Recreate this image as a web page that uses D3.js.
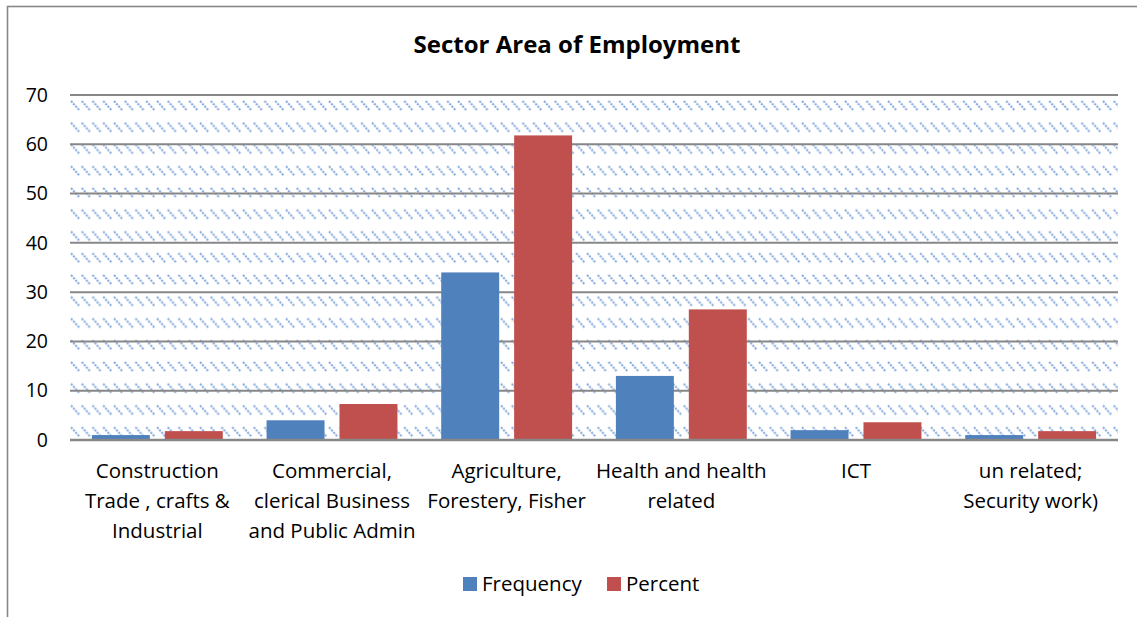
<!DOCTYPE html>
<html>
<head>
<meta charset="utf-8">
<script src="https://cdn.jsdelivr.net/npm/d3@7/dist/d3.min.js"></script>
<style>
  html, body { margin: 0; padding: 0; background: #fff; }
  svg { display: block; font-family: "Open Sans", Lato, sans-serif; }
</style>
</head>
<body>
<svg id="chart" width="1137" height="617"></svg>
<script>
const title = "Sector Area of Employment";
const categories = [
  "Construction Trade , crafts & Industrial",
  "Commercial, clerical Business and Public Admin",
  "Agriculture, Forestery, Fisher",
  "Health and health related",
  "ICT",
  "un related; Security work)"
];
const categoryLines = [
  ["Construction", "Trade , crafts &", "Industrial"],
  ["Commercial,", "clerical Business", "and Public Admin"],
  ["Agriculture,", "Forestery, Fisher"],
  ["Health and health", "related"],
  ["ICT"],
  ["un related;", "Security work)"]
];
const seriesNames = ["Frequency", "Percent"];
const frequency = [1, 4, 34, 13, 2, 1];
const percent = [1.8, 7.3, 61.8, 26.5, 3.6, 1.8];
const yTicks = [0, 10, 20, 30, 40, 50, 60, 70];
const colors = ["#4f81bd", "#c0504d"];

const svg = d3.select("#chart");
const W = 1137, H = 617;
const plot = { left: 70, right: 1118, top: 95, bottom: 440 };
const FONT = "'Open Sans', Lato, sans-serif";

// outer border
svg.append("rect").attr("x", 7.5).attr("y", 6.5).attr("width", W + 20).attr("height", H + 20)
  .attr("fill", "#fff").attr("stroke", "#878787").attr("stroke-width", 1.6);

// hatch pattern
const defs = svg.append("defs");
const pat = defs.append("pattern").attr("id", "hatch").attr("patternUnits", "userSpaceOnUse")
  .attr("x", plot.left).attr("y", 99).attr("width", 10.75).attr("height", 21.75);
pat.append("line").attr("x1", 1).attr("y1", 2).attr("x2", 9.5).attr("y2", 11.5)
  .attr("stroke", "#6f9ad6").attr("stroke-width", 2).attr("stroke-dasharray", "2.2 1.1")
  .attr("opacity", 0.85);

const y = d3.scaleLinear().domain([0, 70]).range([plot.bottom, plot.top]);
const x0 = d3.scaleBand().domain(categories).range([plot.left, plot.right]).padding(0);
const x1 = d3.scaleBand().domain(seriesNames).range([0, x0.bandwidth()])
  .paddingInner(0.205).paddingOuter(0.3);

svg.append("rect").attr("x", plot.left).attr("y", plot.top)
  .attr("width", plot.right - plot.left).attr("height", plot.bottom - plot.top)
  .attr("fill", "url(#hatch)");

// gridlines
svg.append("g").selectAll("line").data(yTicks).join("line")
  .attr("x1", plot.left).attr("x2", plot.right)
  .attr("y1", d => y(d)).attr("y2", d => y(d))
  .attr("stroke", "#878787").attr("stroke-width", 2);

// y axis labels
const yAxis = d3.axisLeft(y).tickValues(yTicks).tickSize(0).tickPadding(22);
const gy = svg.append("g").attr("transform", `translate(${plot.left},0)`).call(yAxis);
gy.select(".domain").remove();
gy.selectAll("text").attr("font-family", FONT).attr("font-size", 19.5).attr("fill", "#000");

// bars
const data = categories.map((c, i) => ({ cat: c, vals: [frequency[i], percent[i]] }));
const groups = svg.append("g").selectAll("g").data(data).join("g")
  .attr("transform", d => `translate(${x0(d.cat)},0)`);
groups.selectAll("rect").data(d => d.vals.map((v, j) => ({ s: seriesNames[j], v, j })))
  .join("rect")
  .attr("x", d => x1(d.s)).attr("width", x1.bandwidth())
  .attr("y", d => y(d.v)).attr("height", d => y(0) - y(d.v))
  .attr("fill", d => colors[d.j]);

// baseline
svg.append("line").attr("x1", plot.left).attr("x2", plot.right)
  .attr("y1", y(0)).attr("y2", y(0)).attr("stroke", "#878787").attr("stroke-width", 2.5);

// x labels
const xl = svg.append("g");
categories.forEach((c, i) => {
  const t = xl.append("text").attr("text-anchor", "middle").attr("font-family", FONT)
    .attr("font-size", 20.5).attr("fill", "#000");
  categoryLines[i].forEach((ln, k) => {
    t.append("tspan").attr("x", x0(c) + x0.bandwidth() / 2).attr("y", 478 + k * 30).text(ln);
  });
});

// title
svg.append("text").attr("x", 577).attr("y", 53).attr("text-anchor", "middle").attr("font-family", FONT)
  .attr("font-size", 24).attr("font-weight", "bold").attr("fill", "#000").text(title);

// legend
const legendX = [463, 607];
seriesNames.forEach((s, j) => {
  svg.append("rect").attr("x", legendX[j]).attr("y", 577).attr("width", 14).attr("height", 14)
    .attr("fill", colors[j]);
  svg.append("text").attr("x", legendX[j] + 19).attr("y", 591).attr("font-family", FONT)
    .attr("font-size", 20.5).attr("fill", "#000").text(s);
});
</script>
</body>
</html>
